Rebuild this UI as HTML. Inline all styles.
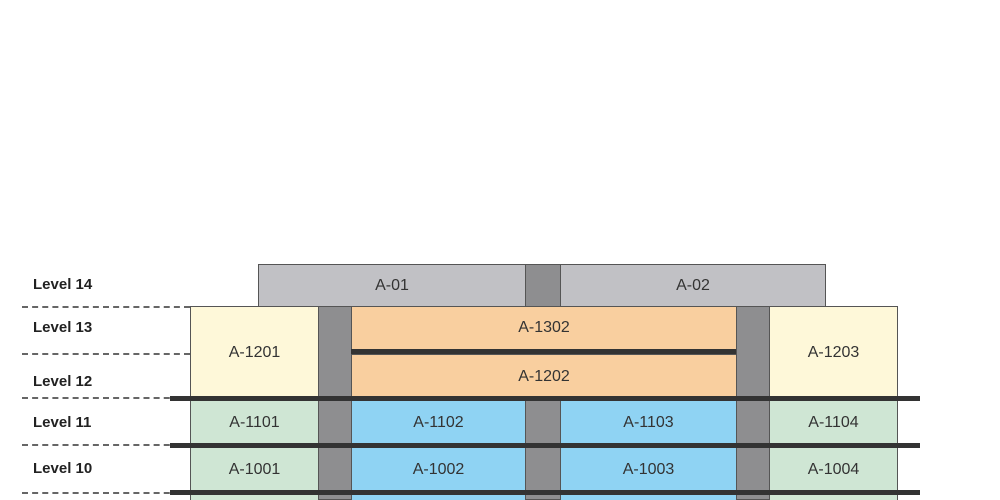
<!DOCTYPE html>
<html style="overflow:hidden;height:500px"><head><style>
html,body{margin:0;width:1000px;height:500px;overflow:hidden}
body{background:#fff;position:relative;font-family:"Liberation Sans",sans-serif}
div{position:absolute;box-sizing:border-box}
.c{display:flex;align-items:center;justify-content:center;font-size:16px;color:#333;border:1px solid #555}
.lbl{left:33px;font-size:15px;font-weight:bold;color:#222}
.dash{left:22px;width:168px;height:0;border-top:2px dashed #666}
.core{background:#8e8e90;border:1px solid #555}
.slab{left:170px;width:750px;height:5px;background:#333}
</style></head><body>
<div class="lbl" style="top:276px">Level 14</div>
<div class="lbl" style="top:319px">Level 13</div>
<div class="lbl" style="top:373px">Level 12</div>
<div class="lbl" style="top:414px">Level 11</div>
<div class="lbl" style="top:460px">Level 10</div>
<div class="dash" style="top:306px"></div>
<div class="dash" style="top:353px"></div>
<div class="dash" style="top:397px"></div>
<div class="dash" style="top:444px"></div>
<div class="dash" style="top:492px"></div>

<div class="c" style="left:258px;top:264px;width:268px;height:43px;background:#c1c1c5">A-01</div>
<div class="core" style="left:525px;top:264px;width:36px;height:43px"></div>
<div class="c" style="left:560px;top:264px;width:266px;height:43px;background:#c1c1c5">A-02</div>

<div class="c" style="left:190px;top:306px;width:129px;height:93px;background:#fef8d9">A-1201</div>
<div class="core" style="left:318px;top:306px;width:34px;height:194px"></div>
<div class="c" style="left:351px;top:306px;width:386px;height:44px;background:#f9cf9f">A-1302</div>
<div style="left:351px;top:349px;width:386px;height:6px;background:#333"></div>
<div class="c" style="left:351px;top:354px;width:386px;height:45px;background:#f9cf9f">A-1202</div>
<div class="core" style="left:736px;top:306px;width:34px;height:194px"></div>
<div class="c" style="left:769px;top:306px;width:129px;height:93px;background:#fef8d9">A-1203</div>

<div class="c" style="left:190px;top:400px;width:129px;height:45px;background:#cfe6d4">A-1101</div>
<div class="c" style="left:351px;top:400px;width:175px;height:45px;background:#8fd3f3">A-1102</div>
<div class="core" style="left:525px;top:400px;width:36px;height:100px"></div>
<div class="c" style="left:560px;top:400px;width:177px;height:45px;background:#8fd3f3">A-1103</div>
<div class="c" style="left:769px;top:400px;width:129px;height:45px;background:#cfe6d4">A-1104</div>

<div class="c" style="left:190px;top:447px;width:129px;height:45px;background:#cfe6d4">A-1001</div>
<div class="c" style="left:351px;top:447px;width:175px;height:45px;background:#8fd3f3">A-1002</div>
<div class="c" style="left:560px;top:447px;width:177px;height:45px;background:#8fd3f3">A-1003</div>
<div class="c" style="left:769px;top:447px;width:129px;height:45px;background:#cfe6d4">A-1004</div>

<div class="c" style="left:190px;top:494px;width:129px;height:6px;background:#cfe6d4;border-bottom:none"></div>
<div class="c" style="left:351px;top:494px;width:175px;height:6px;background:#8fd3f3;border-bottom:none"></div>
<div class="c" style="left:560px;top:494px;width:177px;height:6px;background:#8fd3f3;border-bottom:none"></div>
<div class="c" style="left:769px;top:494px;width:129px;height:6px;background:#cfe6d4;border-bottom:none"></div>

<div class="slab" style="top:396px"></div>
<div class="slab" style="top:443px"></div>
<div class="slab" style="top:490px"></div>
</body></html>
